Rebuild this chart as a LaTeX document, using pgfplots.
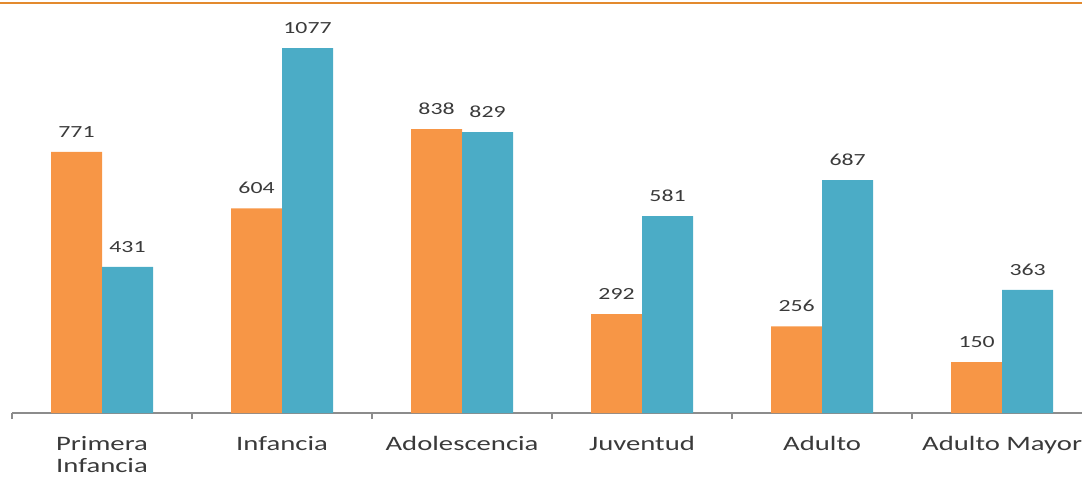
\documentclass[border=0pt]{standalone}
\usepackage{pgfplots}
\pgfplotsset{compat=1.18}
\usepackage{fontspec}
\setmainfont{Carlito}[FakeStretch=1.4]
\definecolor{barO}{HTML}{F79646}
\definecolor{barB}{HTML}{4BACC6}
\definecolor{topO}{HTML}{E38A2E}
\definecolor{txt}{HTML}{3A3A3A}
\definecolor{axl}{HTML}{8C8C8C}
\begin{document}
\begin{tikzpicture}
\useasboundingbox (-12bp,-68bp) rectangle (1070bp,413bp);
\begin{scope}
\clip (-12bp,-68bp) rectangle (1070bp,413bp);
\begin{pgfinterruptboundingbox}
\begin{axis}[
  at={(0,0)}, anchor=south west,
  scale only axis,
  width=1070bp, height=410bp,
  xmin=-0.5, xmax=5.444,
  ymin=0, ymax=1210,
  axis x line=bottom,
  axis y line=none,
  axis line style={axl, line width=1.5bp, -},
  ybar=0pt,
  bar width=51bp,
  xtick={0,1,2,3,4,5},
  xticklabels={{Primera\\Infancia},Infancia,Adolescencia,Juventud,Adulto,Adulto Mayor},
  major tick length=0pt,
  minor xtick={-0.5,0.5,1.5,2.5,3.5,4.5},
  minor tick length=6bp,
  xtick align=outside,
  minor tick style={axl, line width=1.5bp},
  xticklabel style={font=\fontsize{20.5bp}{21.5bp}\selectfont, text=txt, align=center, anchor=north, yshift=-20bp},
  /pgf/number format/.cd, 1000 sep={}, assume math mode=true, /pgfplots/.cd,
  nodes near coords,
  every node near coord/.append style={font=\fontsize{17bp}{18bp}\selectfont, text=txt, yshift=11bp},
  clip=false,
]
\addplot[fill=barO, draw=none] coordinates {(0,771) (1,604) (2,838) (3,292) (4,256) (5,150)};
\addplot[fill=barB, draw=none] coordinates {(0,431) (1,1077) (2,829) (3,581) (4,687) (5,363)};
\draw[topO, line width=2.2bp] (rel axis cs:-0.02,1) -- (rel axis cs:1.02,1);
\end{axis}
\end{pgfinterruptboundingbox}
\end{scope}
\end{tikzpicture}
\end{document}
